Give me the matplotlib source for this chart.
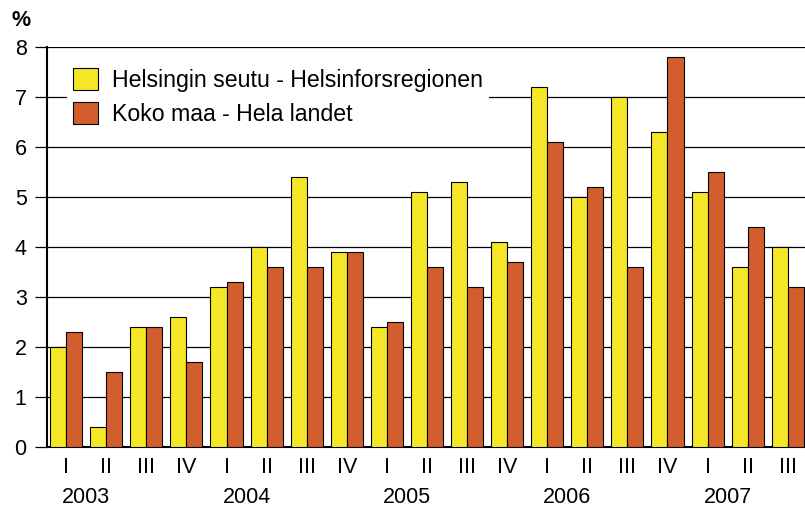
import matplotlib
matplotlib.use("Agg")
import matplotlib.pyplot as plt
import numpy as np

plt.rcParams['font.family'] = ['Liberation Sans', 'DejaVu Sans']

years = ['2003', '2004', '2005', '2006', '2007']
quarters = ['I', 'II', 'III', 'IV', 'I', 'II', 'III', 'IV', 'I', 'II', 'III', 'IV',
            'I', 'II', 'III', 'IV', 'I', 'II', 'III']
helsinki = [2.0, 0.4, 2.4, 2.6, 3.2, 4.0, 5.4, 3.9, 2.4, 5.1, 5.3, 4.1,
            7.2, 5.0, 7.0, 6.3, 5.1, 3.6, 4.0]
koko_maa = [2.3, 1.5, 2.4, 1.7, 3.3, 3.6, 3.6, 3.9, 2.5, 3.6, 3.2, 3.7,
            6.1, 5.2, 3.6, 7.8, 5.5, 4.4, 3.2]
labels = ['Helsingin seutu - Helsinforsregionen', 'Koko maa - Hela landet']

yellow = '#F5E628'
orange = '#D25D2D'

fig = plt.figure(figsize=(8.05, 5.08), dpi=100)
ax = fig.add_axes([0.059, 0.1195, 0.941, 0.7875])

x = np.arange(len(quarters))
w = 0.4
ax.bar(x - w / 2, helsinki, w, color=yellow, edgecolor='black', linewidth=0.8,
       label=labels[0], zorder=3)
ax.bar(x + w / 2, koko_maa, w, color=orange, edgecolor='black', linewidth=0.8,
       label=labels[1], zorder=3)

ax.set_xlim(-0.466, 18.43)
ax.set_ylim(0, 8)
ax.set_yticks(range(0, 9))
ax.yaxis.grid(True, color='black', linewidth=0.9, zorder=0)
ax.set_axisbelow(True)

ax.set_xticks(x)
ax.set_xticklabels(quarters)
ax.tick_params(axis='x', length=0, pad=7, labelsize=15.5)
ax.tick_params(axis='y', length=9, width=0.9, pad=6, labelsize=15.5)

# year labels sit between quarters I and II
for i, yr in enumerate(years):
    ax.text(4 * i + 0.5, -1.0, yr, ha='center', va='center', fontsize=15.5,
            transform=ax.transData)

for s in ['top', 'right']:
    ax.spines[s].set_visible(False)
ax.spines['left'].set_linewidth(1.5)
ax.spines['bottom'].set_linewidth(1.5)

leg = ax.legend(loc='upper left', bbox_to_anchor=(0.0257, 0.963), borderaxespad=0,
                fontsize=16.7, handlelength=1.08, handleheight=1.08,
                handletextpad=0.6, labelspacing=0.45, borderpad=0.26,
                frameon=True, fancybox=False, framealpha=1)
leg.get_frame().set_edgecolor('none')
leg.get_frame().set_facecolor('white')
for h in leg.legend_handles:
    h.set_linewidth(0.8)

fig.text(0.0137, 0.9587, '%', fontsize=15.5, fontweight='bold', va='center', ha='left')

fig.savefig('out.png', dpi=100)
